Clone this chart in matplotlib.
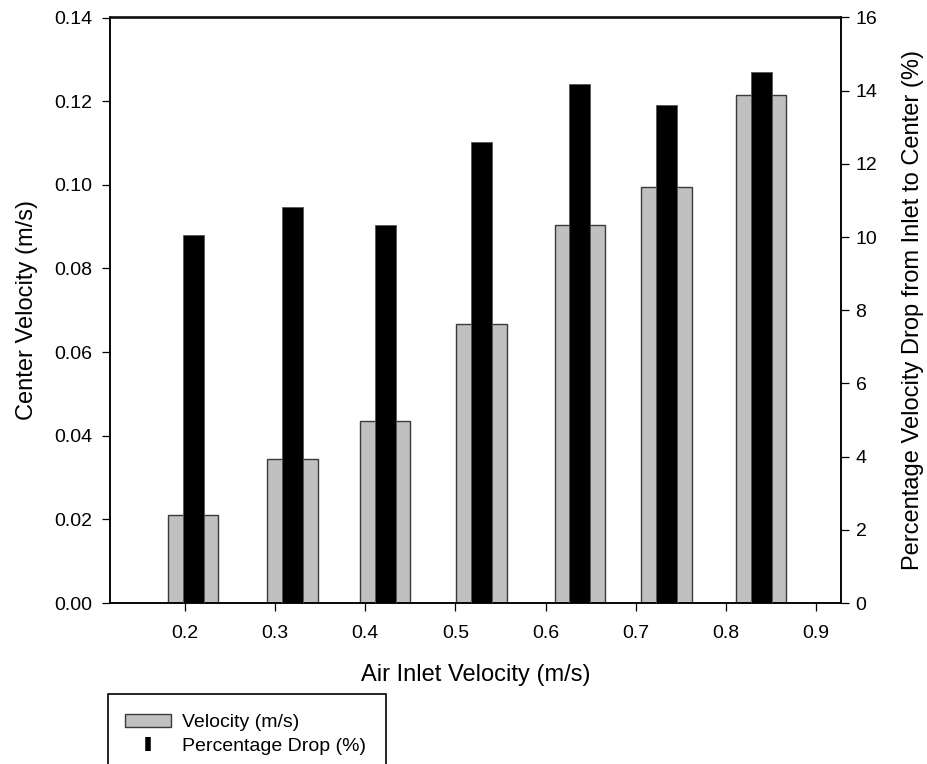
import matplotlib
matplotlib.use("Agg")
import matplotlib.pyplot as plt
from matplotlib.patches import Patch, Rectangle
from matplotlib.lines import Line2D

plt.rcParams["font.family"] = ["Liberation Sans", "DejaVu Sans"]

# bar positions on the air inlet velocity axis (as drawn)
bar_x = [0.209, 0.319, 0.422, 0.529, 0.638, 0.734, 0.839]
center_velocity = [0.0210, 0.0344, 0.0435, 0.0668, 0.0904, 0.0994, 0.1215]
percent_drop = [10.05, 10.82, 10.33, 12.61, 14.18, 13.60, 14.52]

x_ticks = [0.2, 0.3, 0.4, 0.5, 0.6, 0.7, 0.8, 0.9]
left_ticks = [0.00, 0.02, 0.04, 0.06, 0.08, 0.10, 0.12, 0.14]
right_ticks = [0, 2, 4, 6, 8, 10, 12, 14, 16]

W, H = 928, 764
fig = plt.figure(figsize=(W / 100, H / 100), dpi=100)
ax = fig.add_axes([110 / W, 1 - 603 / H, (841 - 110) / W, (603 - 17.5) / H])
ax2 = ax.twinx()

ax.bar(bar_x, center_velocity, width=0.056, color="#c0c0c0",
       edgecolor="#3a3a3a", linewidth=1.0, zorder=2)
ax2.bar(bar_x, percent_drop, width=0.0233, color="black",
        edgecolor="#555555", linewidth=0.6, zorder=3)

ax.set_xlim(0.1168, 0.9277)
ax.set_ylim(0, 0.14)
ax2.set_ylim(0, 16)
ax.set_xticks(x_ticks)
ax.set_xticklabels([f"{v:.1f}" for v in x_ticks])
ax.set_yticks(left_ticks)
ax.set_yticklabels([f"{v:.2f}" for v in left_ticks])
ax2.set_yticks(right_ticks)

for a in (ax, ax2):
    for s in a.spines.values():
        s.set_linewidth(1.1)
    a.tick_params(direction="out", length=5.5, width=0.9, labelsize=14)
ax.tick_params(axis="x", pad=10)
ax.tick_params(axis="y", pad=7)
ax2.tick_params(axis="y", pad=5)

ax.set_xlabel("Air Inlet Velocity (m/s)", fontsize=17, labelpad=16)
ax.set_ylabel("Center Velocity (m/s)", fontsize=17, labelpad=12)
ax2.set_ylabel("Percentage Velocity Drop from Inlet to Center (%)", fontsize=17, labelpad=18)

# legend box running off the bottom edge
fig.patches.append(Rectangle((108 / W, 1 - 775 / H), (386 - 108) / W, (775 - 694) / H,
                             transform=fig.transFigure, fill=False,
                             edgecolor="black", linewidth=1.2))
handles = [
    Patch(facecolor="#c0c0c0", edgecolor="#3a3a3a", linewidth=1.0),
    Line2D([], [], marker="|", markersize=9.5, markeredgewidth=4, color="black", linestyle="None"),
]
fig.legend(handles, ["Velocity (m/s)", "Percentage Drop (%)"],
           loc="upper left", bbox_to_anchor=(111 / W, 1 - 700 / H),
           frameon=False, fontsize=14, handlelength=2.4, handleheight=0.7,
           handletextpad=0.55, labelspacing=0.3, borderpad=0.2)

fig.savefig("out.png", dpi=100)
